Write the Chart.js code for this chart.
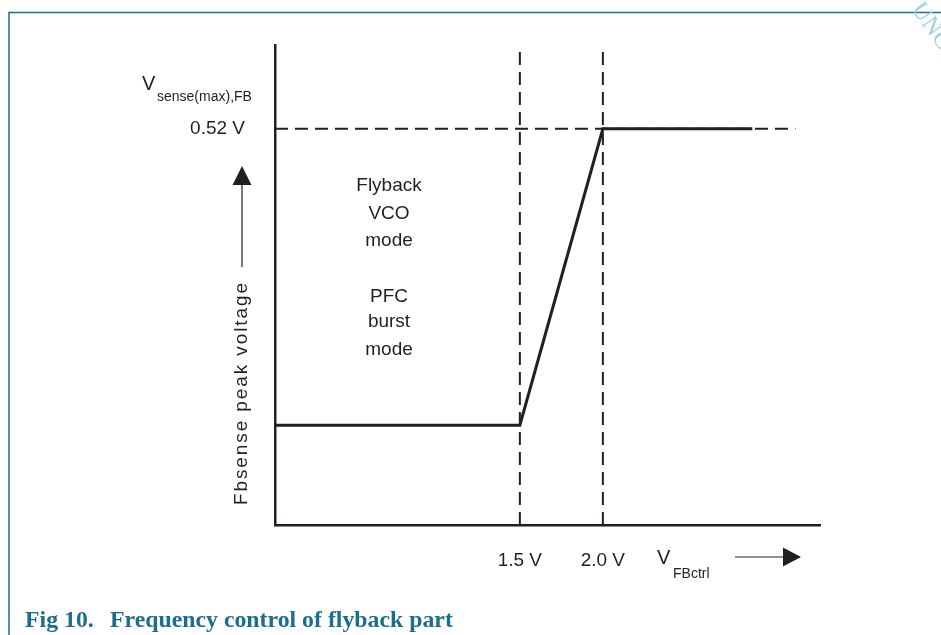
<!DOCTYPE html>
<html>
<head>
<meta charset="utf-8">
<script src="https://cdn.jsdelivr.net/npm/chart.js@4"></script>
<style>
  html, body { margin: 0; padding: 0; background: #fff; }
  #wrap { width: 941px; height: 635px; }
</style>
</head>
<body>
<div id="wrap"><canvas id="fig10" width="941" height="635"></canvas></div>
<script>
// V_FBctrl (V) vs Fbsense peak voltage (V)
var curveX = [0.025, 1.5, 2.0, 2.9];
var curveY = [0.131, 0.131, 0.52, 0.52];
var kneeX = [1.5, 2.0];
var maxLevel = [0.52];
var xTicks = [1.5, 2.0];
var yTicks = [0.52];

var ink = '#231f20';
var teal = '#1b6e8d';

var pts = curveX.map(function (x, i) { return { x: x, y: curveY[i] }; });
var dashes = [];
kneeX.forEach(function (x) {
    dashes.push({ data: [{ x: x, y: 0 }, { x: x, y: 0.63 }] });
});
maxLevel.forEach(function (y) {
    dashes.push({ data: [{ x: 0.025, y: y }, { x: 3.16, y: y }] });
});

var notes = {
    id: 'notes',
    afterDraw: function (chart) {
        var c = chart.ctx;
        c.save();
        // frame
        c.strokeStyle = teal;
        c.lineWidth = 1.5;
        c.beginPath();
        c.moveTo(9, 635); c.lineTo(9, 12.5); c.lineTo(941, 12.5);
        c.stroke();

        c.fillStyle = ink;
        c.textAlign = 'left';
        c.textBaseline = 'alphabetic';
        c.font = '20px "Liberation Sans", Arial, sans-serif';
        c.fillText('V', 142, 90);
        c.fillText('V', 657, 564);
        c.font = '14px "Liberation Sans", Arial, sans-serif';
        c.fillText('sense(max),FB', 157, 101);
        c.fillText('FBctrl', 673, 578);

        // mode notes
        c.textAlign = 'center';
        c.font = '19px "Liberation Sans", Arial, sans-serif';
        [['Flyback', 191], ['VCO', 219], ['mode', 246], ['PFC', 302], ['burst', 327], ['mode', 355]]
            .forEach(function (t) { c.fillText(t[0], 389, t[1]); });

        // y title
        c.save();
        c.translate(247, 505);
        c.rotate(-Math.PI / 2);
        c.textAlign = 'left';
        c.letterSpacing = '1.9px';
        c.fillText('Fbsense peak voltage', 0, 0);
        c.restore();

        // arrows
        c.strokeStyle = ink;
        c.lineWidth = 1.2;
        c.beginPath();
        c.moveTo(242, 267); c.lineTo(242, 184);
        c.moveTo(735, 557); c.lineTo(784, 557);
        c.stroke();
        c.beginPath();
        c.moveTo(242, 166); c.lineTo(251.5, 185); c.lineTo(232.5, 185); c.closePath();
        c.moveTo(801, 557); c.lineTo(783, 547.5); c.lineTo(783, 566.5); c.closePath();
        c.fill();

        // caption
        c.fillStyle = teal;
        c.textAlign = 'left';
        c.font = 'bold 23.8px "Liberation Serif", "Times New Roman", serif';
        c.fillText('Fig 10.', 25, 627);
        c.fillText('Frequency control of flyback part', 110, 627);

        // watermark
        c.save();
        c.translate(911, 9);
        c.rotate(55 * Math.PI / 180);
        c.fillStyle = '#9fd0e3';
        c.font = '24px "Liberation Serif", serif';
        c.textBaseline = 'alphabetic';
        c.fillText('UNCONTROLLED COPY', 0, 0);
        c.restore();
        c.restore();
    }
};

new Chart(document.getElementById('fig10'), {
    type: 'line',
    data: {
        datasets: [{
            data: pts,
            borderColor: ink,
            borderWidth: 3,
            pointRadius: 0,
            tension: 0
        }].concat(dashes.map(function (d) {
            return {
                data: d.data,
                borderColor: ink,
                borderWidth: 2,
                borderDash: [13, 7],
                pointRadius: 0
            };
        }))
    },
    options: {
        responsive: false,
        animation: false,
        events: [],
        layout: { padding: { left: 175, right: 121, top: 45, bottom: 50 } },
        plugins: { legend: { display: false }, tooltip: { enabled: false } },
        scales: {
            x: {
                type: 'linear',
                min: 0.025,
                max: 3.308,
                grid: { display: false, drawTicks: false },
                border: { display: true, color: ink, width: 2.5 },
                ticks: {
                    autoSkip: false,
                    color: ink,
                    padding: 24,
                    font: { family: '"Liberation Sans", Arial, sans-serif', size: 19 },
                    callback: function (v) { return v.toFixed(1) + ' V'; }
                },
                afterBuildTicks: function (s) { s.ticks = xTicks.map(function (v) { return { value: v }; }); },
                afterFit: function (s) { s.height = 60; }
            },
            y: {
                type: 'linear',
                min: 0,
                max: 0.63,
                grid: { display: false, drawTicks: false },
                border: { display: true, color: ink, width: 2.5 },
                ticks: {
                    autoSkip: false,
                    color: ink,
                    padding: 30,
                    font: { family: '"Liberation Sans", Arial, sans-serif', size: 19 },
                    callback: function (v) { return v.toFixed(2) + ' V'; }
                },
                afterBuildTicks: function (s) { s.ticks = yTicks.map(function (v) { return { value: v }; }); },
                afterFit: function (s) { s.width = 100; }
            }
        }
    },
    plugins: [notes]
});
</script>
</body>
</html>
